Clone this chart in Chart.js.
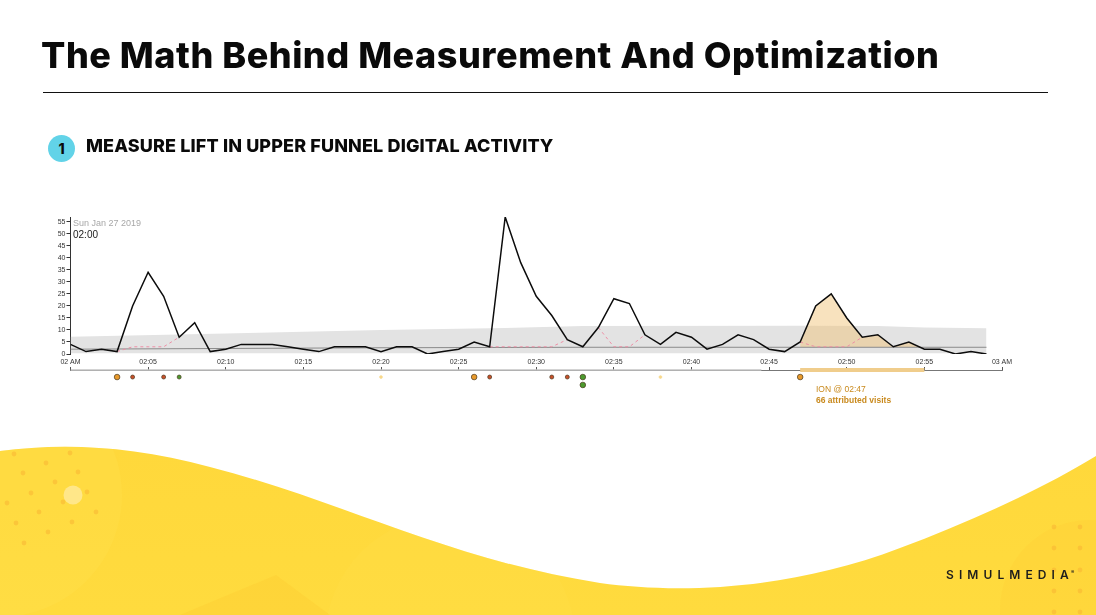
<!DOCTYPE html>
<html>
<head>
<meta charset="utf-8">
<title>The Math Behind Measurement And Optimization</title>
<script src="https://cdn.jsdelivr.net/npm/chart.js@4"></script>
<style>
  html, body { margin: 0; padding: 0; background: #fff; }
  #slide { position: relative; width: 1096px; height: 615px; overflow: hidden; font-family: Inter, sans-serif; }
  #slide div { position: absolute; white-space: nowrap; }
  #wave, #chart { position: absolute; left: 0; top: 0; }
  #title { left: 41px; top: 33px; font-size: 36px; font-weight: 800; color: #0a0a0a; line-height: 44px; letter-spacing: 0.52px; }
  #rule { left: 43px; top: 92px; width: 1005px; height: 1px; background: #111; }
  #badge { left: 48px; top: 135px; width: 27px; height: 27px; border-radius: 50%; background: #62d3e8; text-align: center; font-size: 14px; font-weight: 800; line-height: 27px; color: #0a0a0a; }
  #heading { left: 86px; top: 135px; font-size: 18px; font-weight: 800; line-height: 22px; letter-spacing: 0.13px; color: #0a0a0a; }
  #date { left: 73px; top: 218px; font: 9px "Liberation Sans", sans-serif; color: #a8a8a8; }
  #time { left: 73px; top: 229px; font: 10px "Liberation Sans", sans-serif; color: #222; }
  #ion { left: 816px; top: 384px; font: 8.5px "Liberation Sans", sans-serif; color: #c98a1e; }
  #visits { left: 816px; top: 395px; font: bold 8.5px "Liberation Sans", sans-serif; color: #c98a1e; }
  #logo { left: 946px; top: 567px; font-size: 12px; font-weight: 600; letter-spacing: 5.1px; color: #1d1d1d; }
  #logo sup { font-size: 5px; letter-spacing: 0; vertical-align: 5px; line-height: 0; margin-left: -3px; }
</style>
</head>
<body>
<div id="slide">
  <svg id="wave" width="1096" height="615" viewBox="0 0 1096 615">
    <defs>
      <linearGradient id="gold" x1="0" y1="0" x2="0" y2="1">
        <stop offset="0" stop-color="#ffd033"/>
        <stop offset="1" stop-color="#ffdb3e"/>
      </linearGradient>
      <clipPath id="waveClip">
        <path d="M0 451 C60 443 130 445 210 467 C340 500 450 560 600 583 C680 594 790 590 900 548 C970 522 1040 490 1096 456 L1096 615 L0 615 Z"/>
      </clipPath>
    </defs>
    <g clip-path="url(#waveClip)">
      <rect width="1096" height="615" fill="url(#gold)"/>
      <circle cx="0" cy="495" r="122" fill="#ffe04f" opacity="0.3"/>
      <circle cx="450" cy="640" r="125" fill="#ffe04f" opacity="0.2"/>
      <path d="M180 615 L276 575 L330 615 Z" fill="#fdc72f" opacity="0.3"/>
      <circle cx="1090" cy="610" r="90" fill="#fdc630" opacity="0.2"/>
      <circle cx="73" cy="495" r="9.5" fill="#ffe789"/>
      <g fill="#f9b233" opacity="0.5">
        <circle cx="14" cy="454" r="2.4"/><circle cx="70" cy="453" r="2.4"/><circle cx="46" cy="463" r="2.4"/>
        <circle cx="23" cy="473" r="2.4"/><circle cx="78" cy="472" r="2.4"/><circle cx="55" cy="482" r="2.4"/>
        <circle cx="31" cy="493" r="2.4"/><circle cx="87" cy="492" r="2.4"/><circle cx="7" cy="503" r="2.4"/>
        <circle cx="63" cy="502" r="2.4"/><circle cx="39" cy="512" r="2.4"/><circle cx="96" cy="512" r="2.4"/>
        <circle cx="16" cy="523" r="2.4"/><circle cx="72" cy="522" r="2.4"/><circle cx="48" cy="532" r="2.4"/>
        <circle cx="24" cy="543" r="2.4"/>
        <circle cx="1054" cy="527" r="2.4"/><circle cx="1080" cy="527" r="2.4"/><circle cx="1054" cy="548" r="2.4"/>
        <circle cx="1080" cy="548" r="2.4"/><circle cx="1054" cy="570" r="2.4"/><circle cx="1080" cy="570" r="2.4"/>
        <circle cx="1054" cy="591" r="2.4"/><circle cx="1080" cy="591" r="2.4"/><circle cx="1054" cy="612" r="2.4"/>
        <circle cx="1080" cy="612" r="2.4"/>
      </g>
    </g>
  </svg>
  <canvas id="chart" width="1096" height="615"></canvas>
  <div id="title">The Math Behind Measurement And Optimization</div>
  <div id="rule"></div>
  <div id="badge">1</div>
  <div id="heading">MEASURE LIFT IN UPPER FUNNEL DIGITAL ACTIVITY</div>
  <div id="date">Sun Jan 27 2019</div>
  <div id="time">02:00</div>
  <div id="ion">ION @ 02:47</div>
  <div id="visits">66 attributed visits</div>
  <div id="logo">SIMULMEDIA<sup>®</sup></div>
</div>
<script>
// visits per minute, 02:00 to 02:59
const visits = [4, 1, 2, 1, 20, 34, 24, 7, 13, 1, 2, 4, 4, 4, 3, 2, 1, 3, 3, 3,
  1, 3, 3, 0, 1, 2, 5, 3, 57, 38, 24, 16, 6, 3, 11, 23, 21, 8, 4, 9,
  7, 2, 4, 8, 6, 2, 1, 5, 20, 25, 15, 7, 8, 3, 5, 2, 2, 0, 1, 0];

// pink dashed line, only where it leaves the black one
const predicted = [null, null, null, 1, 3, 3, 3, 7, null, null, null, null, null, null, null, null, null, null, null, null,
  null, null, null, null, null, null, null, 3, 3, 3, 3, 3, 6, null, 11, 3, 3, 8, null, null,
  null, null, null, null, null, null, null, 5, 3, 3, 3, 7, null, null, null, null, null, null, null, null];

const bandMinutes = [0, 10, 20, 28, 33, 47, 52, 55, 59];
const bandUpper = [7.2, 8.5, 10, 10.8, 11.7, 11.8, 11.7, 11, 10.7];
const bandLower = [0.3, 0.3, 0.3, 0.3, 0.3, 0.3, 0.3, 0.3, 0.3];

const medianMinutes = [0, 20, 33, 59];
const medianValues = [2, 2.6, 2.8, 2.8];

const liftMinutes = [47, 48, 49, 50, 51, 52, 53, 54, 55];
const liftValues = [5, 20, 25, 15, 7, 8, 3, 5, 2];

const xTickLabels = ['02 AM', '02:05', '02:10', '02:15', '02:20', '02:25', '02:30',
  '02:35', '02:40', '02:45', '02:50', '02:55', '03 AM'];

const eventMinutes = [3, 4, 6, 7, 20, 26, 27, 31, 32, 33, 33, 38, 47];
const eventRows = [0, 0, 0, 0, 0, 0, 0, 0, 0, 0, 1, 0, 0];
const eventKinds = ['orange', 'red', 'red', 'green', 'pale', 'orange', 'red', 'red', 'red', 'greenBig', 'greenBig', 'pale', 'orange'];

const kindColors = { orange: '#e89a2c', red: '#c8502a', green: '#4c9a2e', greenBig: '#4c9a2e', pale: '#f8d98c' };
const kindRadius = { orange: 2.8, red: 2, green: 2, greenBig: 2.8, pale: 1.4 };
// lower strip of the chart, same units as the visits scale
const stripMin = -15.83;
const rowY = [-9.6, -12.9];
const axisY = -6.67;

function pairs(xs, ys) {
  return xs.map((x, i) => ({ x: x, y: ys[i] }));
}
const minutes = visits.map((v, i) => i);

const labelFont = { family: '"Liberation Sans", sans-serif', size: 7 };

new Chart(document.getElementById('chart').getContext('2d'), {
  type: 'line',
  data: {
    datasets: [
      { yAxisID: 'y', data: pairs(bandMinutes, bandLower), borderWidth: 0, pointRadius: 0, fill: false, order: 9 },
      { yAxisID: 'y', data: pairs(bandMinutes, bandUpper), borderWidth: 0, pointRadius: 0, backgroundColor: '#e3e3e3', fill: 0, order: 8 },
      { yAxisID: 'y', data: pairs(medianMinutes, medianValues), borderColor: '#8a8a8a', borderWidth: 1, pointRadius: 0, fill: false, order: 6 },
      { yAxisID: 'y', data: pairs(liftMinutes, liftValues), borderWidth: 0, pointRadius: 0, order: 7,
        fill: { target: 2, above: 'rgba(240, 190, 110, 0.45)', below: 'rgba(0, 0, 0, 0)' } },
      { yAxisID: 'y', data: pairs(minutes, predicted), borderColor: '#ee8fa6', borderWidth: 1, borderDash: [3, 3], pointRadius: 0, fill: false, order: 5 },
      { yAxisID: 'y', data: pairs(minutes, visits), borderColor: '#0c0c0c', borderWidth: 1.5, pointRadius: 0, tension: 0, fill: false, order: 1 },
      // thick segments sitting on the time axis
      { yAxisID: 'yStrip', data: pairs([0, 44.5], [axisY, axisY]), borderColor: '#c4c4c4', borderWidth: 1.5, pointRadius: 0, fill: false, order: 4 },
      { yAxisID: 'yStrip', data: pairs([47, 55], [axisY, axisY]), borderColor: '#f0cd8c', borderWidth: 4, pointRadius: 0, fill: false, order: 3 },
      { yAxisID: 'yStrip', data: pairs(eventMinutes, eventRows.map(r => rowY[r])), showLine: false, fill: false, order: 0,
        pointRadius: eventKinds.map(k => kindRadius[k]),
        pointBackgroundColor: eventKinds.map(k => kindColors[k]),
        pointBorderColor: eventKinds.map(k => k === 'pale' ? kindColors[k] : '#4a3a20'),
        pointBorderWidth: 0.7 }
    ]
  },
  options: {
    responsive: false,
    animation: false,
    events: [],
    layout: { padding: { left: 50, right: 94, top: 217, bottom: 223 } },
    plugins: { legend: { display: false }, tooltip: { enabled: false }, title: { display: false } },
    scales: {
      x: { type: 'linear', min: 0, max: 60, display: false },
      xLabels: {
        type: 'linear', axis: 'x', min: 0, max: 60,
        position: { yStrip: 0 },
        afterFit(s) { s.height = 0; },
        grid: { display: false, drawTicks: false },
        border: { display: false },
        ticks: {
          stepSize: 5, autoSkip: false, maxRotation: 0, padding: 4, color: '#333', font: labelFont,
          callback: (v) => xTickLabels[v / 5]
        }
      },
      xLine: {
        type: 'linear', axis: 'x', min: 0, max: 60,
        position: { yStrip: axisY },
        afterFit(s) { s.height = 0; },
        grid: { drawOnChartArea: false, tickLength: -4, tickColor: '#555', tickWidth: 1 },
        border: { color: '#777', width: 1 },
        ticks: { stepSize: 5, display: false }
      },
      // stacked scales: the one listed last sits on top
      yStrip: {
        min: stripMin, max: 0,
        stack: 'v', stackWeight: 38,
        grid: { display: false, drawTicks: false },
        border: { display: false },
        ticks: { display: false }
      },
      y: {
        min: 0, max: 57,
        stack: 'v', stackWeight: 137,
        afterFit(s) { s.width = 20.5; },
        grid: { drawOnChartArea: false, tickLength: 4, tickColor: '#333' },
        border: { color: '#333', width: 1 },
        ticks: { stepSize: 5, includeBounds: false, autoSkip: false, padding: 1, color: '#333', font: labelFont }
      }
    }
  }
});
</script>
</body>
</html>
